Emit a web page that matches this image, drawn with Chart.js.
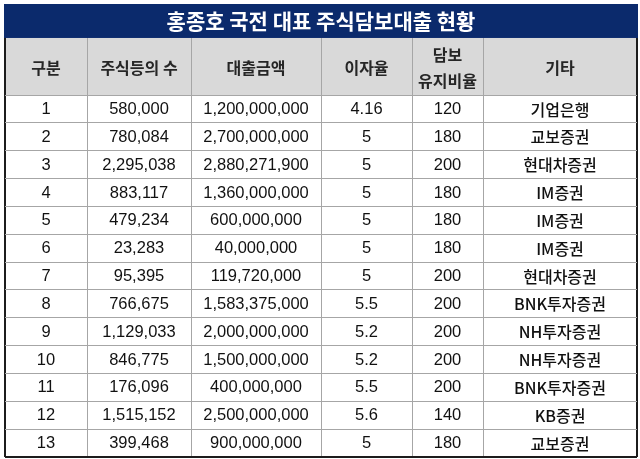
<!DOCTYPE html>
<html lang="ko">
<head>
<meta charset="utf-8">
<title>홍종호 국전 대표 주식담보대출 현황</title>
<script src="https://cdn.jsdelivr.net/npm/chart.js@4.4.1/dist/chart.umd.min.js"></script>
<style>
  html, body { margin: 0; padding: 0; background: #fff; }
  #wrap { position: relative; width: 640px; height: 459px; }
</style>
</head>
<body>
<div id="wrap"><canvas id="table"></canvas></div>
<script>
const title = "홍종호 국전 대표 주식담보대출 현황";
const headers = ["구분", "주식등의 수", "대출금액", "이자율", "담보\n유지비율", "기타"];
const rowNo = [1, 2, 3, 4, 5, 6, 7, 8, 9, 10, 11, 12, 13];
const shares = [580000, 780084, 2295038, 883117, 479234, 23283, 95395, 766675, 1129033, 846775, 176096, 1515152, 399468];
const loanAmounts = [1200000000, 2700000000, 2880271900, 1360000000, 600000000, 40000000, 119720000, 1583375000, 2000000000, 1500000000, 400000000, 2500000000, 900000000];
const interestRates = [4.16, 5, 5, 5, 5, 5, 5, 5.5, 5.2, 5.2, 5.5, 5.6, 5];
const collateralRatios = [120, 180, 200, 180, 180, 180, 200, 200, 200, 200, 200, 140, 180];
const lenders = ["기업은행", "교보증권", "현대차증권", "IM증권", "IM증권", "IM증권", "현대차증권", "BNK투자증권", "NH투자증권", "NH투자증권", "BNK투자증권", "KB증권", "교보증권"];

// layout (in axis units: x = column width, y = one body row)
const colWidths = [82, 104, 130, 91, 71, 154];
const TITLE_H = 1.22;
const HEADER_H = 2.05;

const colEdges = colWidths.reduce((acc, w) => { acc.push(acc[acc.length - 1] + w); return acc; }, [0]);
const bodyTop = TITLE_H + HEADER_H;
const rowEdges = [bodyTop];
rowNo.forEach((_, i) => rowEdges.push(bodyTop + i + 1));
const totalH = rowEdges[rowEdges.length - 1];

const fmt = n => n.toLocaleString("en-US");
const cells = rowNo.map((n, i) => [
  String(n), fmt(shares[i]), fmt(loanAmounts[i]),
  String(interestRates[i]), String(collateralRatios[i]), lenders[i]
]);

const NAVY = "#0b2a6c";
const HEAD_BG = "#d9d9d9";
const LINE = "#a6a6a6";
const EDGE = "#1c1c1c";
const NUM_FONT = "'Liberation Sans', Arial, 'Noto Sans CJK KR', sans-serif";
const KO_FONT = "'Noto Sans CJK KR', 'Liberation Sans', sans-serif";

const tablePlugin = {
  id: "tableCells",
  beforeDraw(chart) {
    const { ctx, scales: { x, y } } = chart;
    const top = y.getPixelForValue(TITLE_H);
    const bottom = y.getPixelForValue(bodyTop);
    ctx.save();
    ctx.fillStyle = HEAD_BG;
    ctx.fillRect(x.getPixelForValue(0), top, x.getPixelForValue(colEdges.at(-1)) - x.getPixelForValue(0), bottom - top);
    ctx.restore();
  },
  afterDraw(chart) {
    const { ctx, scales: { x, y } } = chart;
    const left = x.getPixelForValue(0) - 1;
    const right = x.getPixelForValue(colEdges.at(-1)) + 1;
    const tTop = y.getPixelForValue(0);
    const tBottom = y.getPixelForValue(TITLE_H);

    ctx.save();
    // title bar
    ctx.fillStyle = NAVY;
    ctx.fillRect(left, tTop, right - left, tBottom - tTop);
    ctx.textAlign = "center";
    ctx.textBaseline = "middle";
    ctx.fillStyle = "#ffffff";
    ctx.font = "bold 21px " + KO_FONT;
    ctx.fillText(title, (left + right) / 2, (tTop + tBottom) / 2);

    // header
    ctx.fillStyle = "#262626";
    ctx.font = "bold 16px " + KO_FONT;
    const hMid = y.getPixelForValue(TITLE_H + HEADER_H / 2);
    headers.forEach((h, c) => {
      const cx = x.getPixelForValue((colEdges[c] + colEdges[c + 1]) / 2);
      const lines = h.split("\n");
      lines.forEach((ln, k) => {
        ctx.fillText(ln, cx, hMid + (k - (lines.length - 1) / 2) * 26 + 1);
      });
    });

    // body
    ctx.fillStyle = "#111111";
    cells.forEach((row, r) => {
      const cy = y.getPixelForValue(rowEdges[r] + 0.5);
      row.forEach((txt, c) => {
        const cx = x.getPixelForValue((colEdges[c] + colEdges[c + 1]) / 2);
        ctx.font = c === 5 ? "500 16px " + KO_FONT : "16.5px " + NUM_FONT;
        ctx.fillText(txt, cx, cy + 0.5);
      });
    });
    ctx.restore();
  }
};

new Chart(document.getElementById("table"), {
  type: "scatter",
  data: { datasets: [] },
  plugins: [tablePlugin],
  options: {
    responsive: true,
    maintainAspectRatio: false,
    animation: false,
    events: [],
    layout: { padding: { left: 5, right: 3, top: 4, bottom: 2 } },
    plugins: { legend: { display: false }, tooltip: { enabled: false } },
    scales: {
      x: {
        type: "linear",
        min: 0,
        max: colEdges.at(-1),
        afterBuildTicks: s => { s.ticks = colEdges.map(v => ({ value: v })); },
        ticks: { display: false },
        border: { display: false },
        grid: {
          drawTicks: false,
          color: c => (c.index === 0 || c.index === colEdges.length - 1) ? EDGE : LINE,
          lineWidth: c => (c.index === 0 || c.index === colEdges.length - 1) ? 2 : 1
        }
      },
      y: {
        type: "linear",
        reverse: true,
        min: 0,
        max: totalH,
        afterBuildTicks: s => { s.ticks = rowEdges.map(v => ({ value: v })); },
        ticks: { display: false },
        border: { display: false },
        grid: {
          drawTicks: false,
          color: c => c.index === rowEdges.length - 1 ? EDGE : LINE,
          lineWidth: c => c.index === rowEdges.length - 1 ? 2 : 1
        }
      }
    }
  }
});
</script>
</body>
</html>
